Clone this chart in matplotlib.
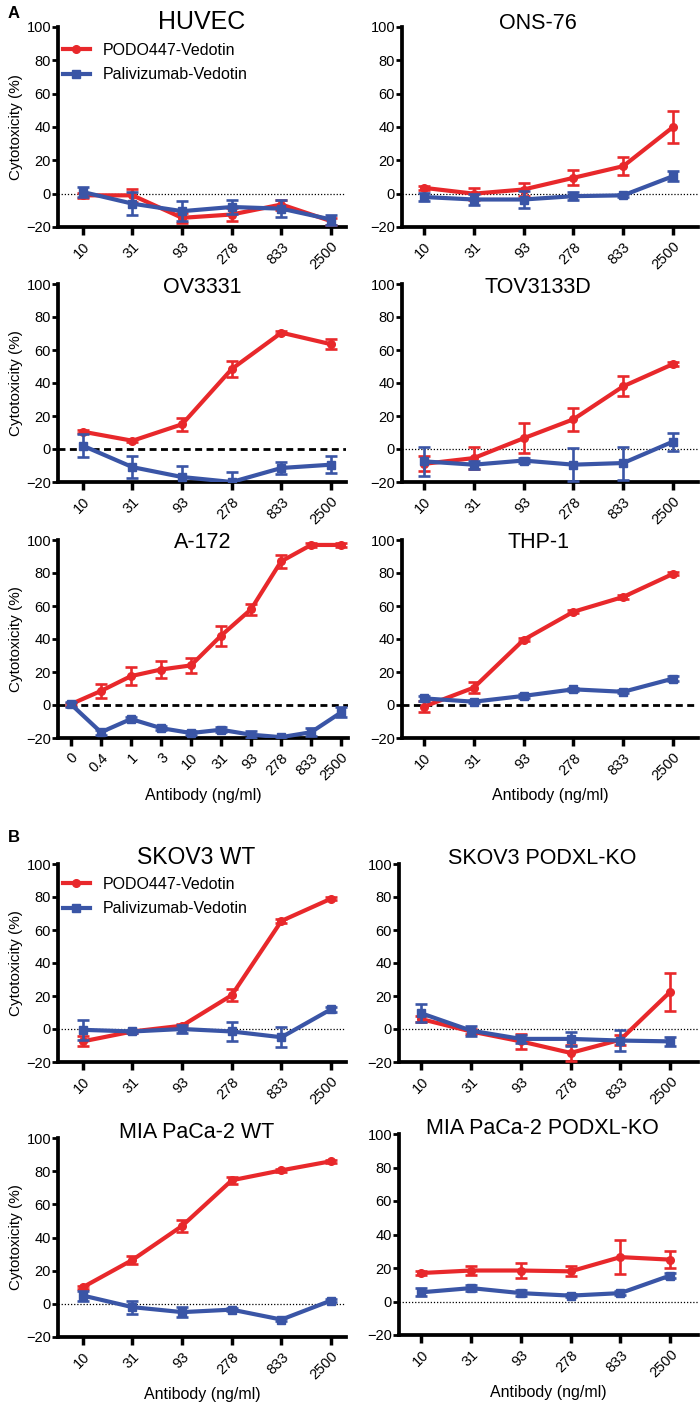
import matplotlib
matplotlib.use('Agg')
import matplotlib.pyplot as plt
from matplotlib.lines import Line2D

plt.rcParams['font.family'] = ['Liberation Sans', 'DejaVu Sans']

RED = '#E8282B'
BLUE = '#3A55A6'

doses = ['10', '31', '93', '278', '833', '2500']
doses_a172 = ['0', '0.4', '1', '3', '10', '31', '93', '278', '833', '2500']

# panel A
huvec_podo = [-1, -1, -14.5, -12.5, -6.5, -16.5]
huvec_podo_err = [1.5, 4, 3, 4, 3, 2]
huvec_pali = [1, -6, -10.5, -8, -9, -15.5]
huvec_pali_err = [3, 7, 6, 4, 5, 3]

ons76_podo = [3.5, 0, 2.5, 9.5, 16.5, 40]
ons76_podo_err = [1, 3.5, 4, 4.5, 5.5, 9.5]
ons76_pali = [-2, -3.5, -3.5, -1.5, -1, 10.5]
ons76_pali_err = [2.5, 3.5, 5, 2.5, 1, 3]

ov3331_podo = [10.5, 5, 15, 48.5, 70.5, 63.5]
ov3331_podo_err = [1, 1, 4, 5, 1, 3]
ov3331_pali = [2, -11, -17, -20, -11.5, -9.5]
ov3331_pali_err = [7, 6.5, 7, 6, 3.5, 5]

tov_podo = [-9, -5.5, 6.5, 18, 38, 51.5]
tov_podo_err = [4.5, 6.5, 9, 7, 6, 1]
tov_pali = [-7.5, -9.5, -7, -9.5, -8.5, 4.5]
tov_pali_err = [9, 2.5, 1.5, 10, 10, 5.5]

a172_podo = [0.5, 8.5, 17.5, 21.5, 24, 42, 58, 87, 97, 97]
a172_podo_err = [1, 4, 5.5, 5, 4.5, 6, 3.5, 4, 1, 1]
a172_pali = [0.5, -16.5, -8.5, -14, -17, -15, -18, -19.5, -16.5, -4.5]
a172_pali_err = [1.5, 1.5, 1, 1, 1, 1.5, 2, 1, 2.5, 3]

thp1_podo = [-1, 10.5, 39.5, 56.5, 65.5, 79.5]
thp1_podo_err = [3.5, 3.5, 1, 1, 1, 1]
thp1_pali = [4, 2, 5.5, 9.5, 8, 16]
thp1_pali_err = [1.5, 1, 1, 1, 1, 1.5]

# panel B
skov_wt_podo = [-7.5, -1.5, 2, 20.5, 65.5, 79]
skov_wt_podo_err = [3, 1, 1, 3.5, 1, 1]
skov_wt_pali = [-0.5, -1.5, 0, -1.5, -5, 12]
skov_wt_pali_err = [6, 1, 2.5, 6, 6, 1.5]

skov_ko_podo = [6, -1.5, -7.5, -14.5, -6.5, 22.5]
skov_ko_podo_err = [2, 1.5, 4.5, 5, 3, 11.5]
skov_ko_pali = [9.5, -1, -6, -6, -7, -7.5]
skov_ko_pali_err = [5.5, 3, 2.5, 4, 6.5, 2.5]

mia_wt_podo = [10, 26.5, 47, 74.5, 80.5, 86]
mia_wt_podo_err = [1, 2.5, 3.5, 2, 1, 1]
mia_wt_pali = [5, -2, -5, -3.5, -9.5, 2]
mia_wt_pali_err = [3, 4, 3, 1, 1, 1]

mia_ko_podo = [17, 18.5, 18.5, 18, 26.5, 25]
mia_ko_podo_err = [1, 2.5, 4.5, 3, 10, 5]
mia_ko_pali = [5.5, 8, 5, 3.5, 5, 15.5]
mia_ko_pali_err = [2.5, 2, 2, 1, 1, 1.5]

panels = [
    ('HUVEC', doses, huvec_podo, huvec_podo_err, huvec_pali, huvec_pali_err),
    ('ONS-76', doses, ons76_podo, ons76_podo_err, ons76_pali, ons76_pali_err),
    ('OV3331', doses, ov3331_podo, ov3331_podo_err, ov3331_pali, ov3331_pali_err),
    ('TOV3133D', doses, tov_podo, tov_podo_err, tov_pali, tov_pali_err),
    ('A-172', doses_a172, a172_podo, a172_podo_err, a172_pali, a172_pali_err),
    ('THP-1', doses, thp1_podo, thp1_podo_err, thp1_pali, thp1_pali_err),
    ('SKOV3 WT', doses, skov_wt_podo, skov_wt_podo_err, skov_wt_pali, skov_wt_pali_err),
    ('SKOV3 PODXL-KO', doses, skov_ko_podo, skov_ko_podo_err, skov_ko_pali, skov_ko_pali_err),
    ('MIA PaCa-2 WT', doses, mia_wt_podo, mia_wt_podo_err, mia_wt_pali, mia_wt_pali_err),
    ('MIA PaCa-2 PODXL-KO', doses, mia_ko_podo, mia_ko_podo_err, mia_ko_pali, mia_ko_pali_err),
]

# layout: pixel box (x0, y0, x1, y1), xlim, zero line style, title y, title size, title x
layout = {
    'HUVEC': ((58, 27, 346, 227), (-0.5, 5.3), 'dot', 0.99, 18, 0.5),
    'ONS-76': ((402, 27, 698, 227), (-0.44, 5.5), 'dot', 0.99, 15.5, 0.46),
    'OV3331': ((58, 284, 346, 482), (-0.5, 5.3), 'dash', 0.955, 15.5, 0.5),
    'TOV3133D': ((402, 284, 698, 482), (-0.44, 5.5), 'dot', 0.955, 15.5, 0.46),
    'A-172': ((58, 540, 348, 738), (-0.43, 9.23), 'dash', 0.96, 15.5, 0.5),
    'THP-1': ((402, 540, 698, 738), (-0.44, 5.5), 'dash', 0.96, 15.5, 0.46),
    'SKOV3 WT': ((58, 864, 346, 1062), (-0.5, 5.3), 'dot', 1.0, 16.5, 0.48),
    'SKOV3 PODXL-KO': ((399, 864, 698, 1062), (-0.45, 5.56), 'dot', 1.0, 15.5, 0.48),
    'MIA PaCa-2 WT': ((58, 1138, 346, 1337), (-0.5, 5.3), 'dot', 1.0, 15.5, 0.48),
    'MIA PaCa-2 PODXL-KO': ((399, 1134, 698, 1335), (-0.45, 5.56), 'dot', 1.0, 15.5, 0.48),
}
left_col = ['HUVEC', 'OV3331', 'A-172', 'SKOV3 WT', 'MIA PaCa-2 WT']
with_xlabel = ['A-172', 'THP-1', 'MIA PaCa-2 WT', 'MIA PaCa-2 PODXL-KO']
with_legend = {'HUVEC': 0.945, 'SKOV3 WT': 0.96}

W, H = 700, 1402
fig = plt.figure(figsize=(W / 100, H / 100), dpi=100)

for name, cats, podo, podo_err, pali, pali_err in panels:
    box, xlim, zstyle, ty, tsize, tx = layout[name]
    x0, y0, x1, y1 = box
    ax = fig.add_axes([x0 / W, 1 - y1 / H, (x1 - x0) / W, (y1 - y0) / H])
    xs = list(range(len(cats)))

    if zstyle == 'dot':
        ax.axhline(0, color='black', lw=0.9, ls=(0, (1, 1.5)), zorder=1)
    else:
        ax.axhline(0, color='black', lw=2.0, ls=(0, (2.5, 1.6)), zorder=1)

    ax.errorbar(xs, podo, yerr=podo_err, color=RED, lw=3, marker='o', ms=5.5,
                capsize=4, elinewidth=1.9, capthick=1.9, zorder=3)
    ax.errorbar(xs, pali, yerr=pali_err, color=BLUE, lw=3, marker='s', ms=6.2,
                capsize=4, elinewidth=1.9, capthick=1.9, zorder=4)

    ax.set_ylim(-20, 100)
    ax.set_xlim(*xlim)
    ax.set_yticks([-20, 0, 20, 40, 60, 80, 100])
    ax.set_xticks(xs)
    ax.set_xticklabels(cats, rotation=45, ha='right', rotation_mode='anchor', fontsize=10.5)
    ax.tick_params(axis='y', labelsize=10.5, length=4, width=2, pad=1)
    ax.tick_params(axis='x', length=6, width=2.5, pad=3)
    for s in ['top', 'right']:
        ax.spines[s].set_visible(False)
    for s in ['left', 'bottom']:
        ax.spines[s].set_linewidth(2.7)
    ax.spines['left'].set_bounds(-20, 100)

    ax.text(tx, ty, name, transform=ax.transAxes, ha='center', va='baseline', fontsize=tsize)

    if name in left_col:
        ax.set_ylabel('Cytotoxicity (%)', fontsize=11, labelpad=2)
    if name in with_xlabel:
        ax.set_xlabel('Antibody (ng/ml)', fontsize=11.5, labelpad=3)

    if name in with_legend:
        handles = [
            Line2D([], [], color=RED, lw=3, marker='o', ms=5.5),
            Line2D([], [], color=BLUE, lw=3, marker='s', ms=6.2),
        ]
        ax.legend(handles, ['PODO447-Vedotin', 'Palivizumab-Vedotin'], loc='upper left',
                  bbox_to_anchor=(0.0, with_legend[name]), frameon=False, fontsize=11.5,
                  handlelength=1.7, handletextpad=0.8, labelspacing=0.6,
                  borderpad=0, borderaxespad=0.3)

fig.text(8 / W, 1 - 14 / H, 'A', fontsize=12, fontweight='bold', va='center')
fig.text(8 / W, 1 - 838 / H, 'B', fontsize=12, fontweight='bold', va='center')

fig.savefig('out.png', dpi=100)
